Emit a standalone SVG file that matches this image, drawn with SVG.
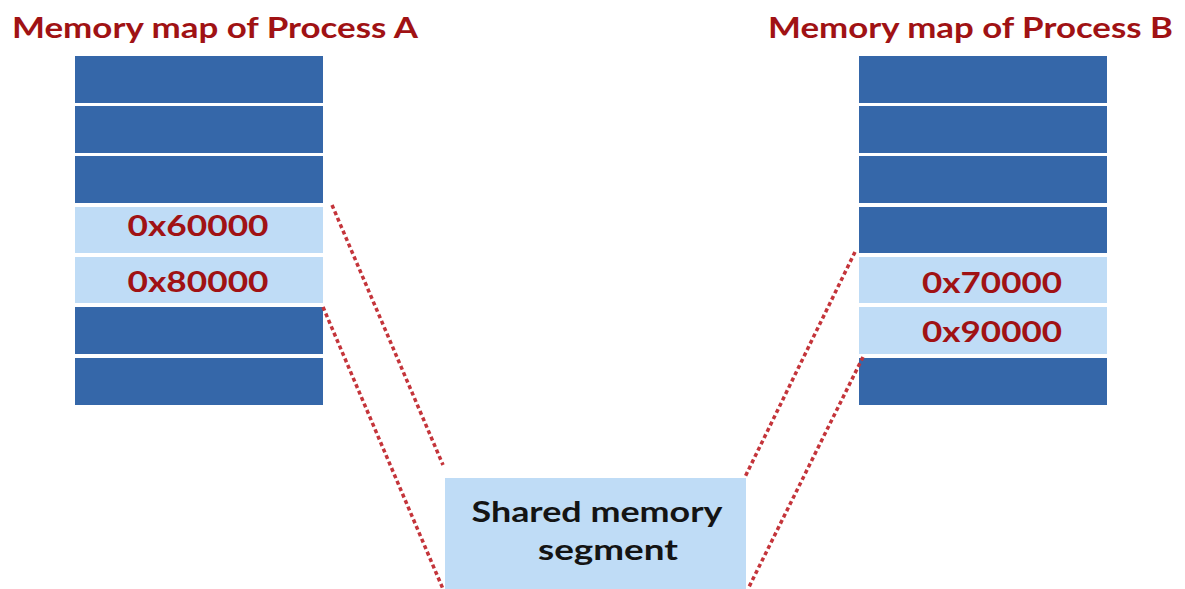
<svg xmlns="http://www.w3.org/2000/svg" width="1185" height="589" viewBox="0 0 1185 589">
<style>
.dark{fill:#3567a9}
.light{fill:#bfdcf6}
.title{font-family:Lato,"Open Sans","Liberation Sans",sans-serif;font-weight:bold;font-size:29px;fill:#a01214}
.hex{font-family:Lato,"Open Sans","Liberation Sans",sans-serif;font-weight:bold;font-size:29px;fill:#a01214;text-anchor:middle}
.seg{font-family:Lato,"Open Sans","Liberation Sans",sans-serif;font-weight:bold;font-size:29px;fill:#141414;text-anchor:middle}
.conn{stroke:#c4343a;stroke-width:3.5;stroke-dasharray:4 3;fill:none}
</style>
<rect width="1185" height="589" fill="#ffffff"/>
<g id="processA">
<text class="title" x="12" y="38" textLength="406" lengthAdjust="spacingAndGlyphs">Memory map of Process A</text>
<rect class="dark" x="75" y="56" width="248" height="47"/>
<rect class="dark" x="75" y="106" width="248" height="47"/>
<rect class="dark" x="75" y="156" width="248" height="47"/>
<rect class="light" x="75" y="207" width="248" height="46"/>
<rect class="light" x="75" y="257" width="248" height="46"/>
<rect class="dark" x="75" y="307" width="248" height="47"/>
<rect class="dark" x="75" y="358" width="248" height="47"/>
<text class="hex" x="198" y="236" textLength="141" lengthAdjust="spacingAndGlyphs">0x60000</text>
<text class="hex" x="198" y="292" textLength="141" lengthAdjust="spacingAndGlyphs">0x80000</text>
</g>
<g id="processB">
<text class="title" x="768" y="38" textLength="405" lengthAdjust="spacingAndGlyphs">Memory map of Process B</text>
<rect class="dark" x="859" y="56" width="248" height="47"/>
<rect class="dark" x="859" y="106" width="248" height="47"/>
<rect class="dark" x="859" y="156" width="248" height="47"/>
<rect class="dark" x="859" y="207" width="248" height="46"/>
<rect class="light" x="859" y="257" width="248" height="46"/>
<rect class="light" x="859" y="307" width="248" height="47"/>
<rect class="dark" x="859" y="358" width="248" height="47"/>
<text class="hex" x="992" y="293" textLength="140" lengthAdjust="spacingAndGlyphs">0x70000</text>
<text class="hex" x="992" y="342" textLength="140" lengthAdjust="spacingAndGlyphs">0x90000</text>
</g>
<g id="shared">
<rect class="light" x="445" y="478" width="301" height="115"/>
<text class="seg" x="597" y="522" textLength="251" lengthAdjust="spacingAndGlyphs">Shared memory</text>
<text class="seg" x="608" y="560" textLength="140" lengthAdjust="spacingAndGlyphs">segment</text>
</g>
<g id="connectors">
<line class="conn" x1="332" y1="205" x2="443" y2="465"/>
<line class="conn" x1="323" y1="307" x2="443" y2="589"/>
<line class="conn" x1="855" y1="252" x2="745" y2="477"/>
<line class="conn" x1="863" y1="357" x2="748" y2="589"/>
</g>
</svg>
